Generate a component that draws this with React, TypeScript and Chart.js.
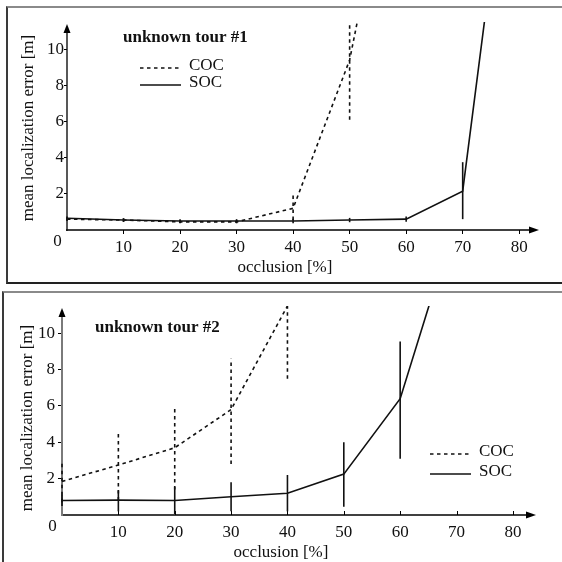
import React, { useEffect, useRef } from "react";
import { Chart, registerables } from "chart.js";

Chart.register(...registerables);

// ---------- data ----------
const occlusion = [0, 10, 20, 30, 40, 50, 60, 70, 80];
const xTickValues = [10, 20, 30, 40, 50, 60, 70, 80];
const yTickValues = [2, 4, 6, 8, 10];
const seriesNames = ["COC", "SOC"];

// unknown tour #1
const tour1COC = [0.6, 0.55, 0.45, 0.45, 1.2, 9.4, 25];
const tour1COCLow = [0.5, 0.45, 0.37, 0.37, 0.55, 6.1];
const tour1COCHigh = [0.7, 0.65, 0.55, 0.55, 2.0, 13];
const tour1SOC = [0.65, 0.55, 0.5, 0.5, 0.5, 0.55, 0.6, 2.15, 26.5];
const tour1SOCLow = [0.55, 0.45, 0.4, 0.4, 0.38, 0.43, 0.45, 0.6];
const tour1SOCHigh = [0.75, 0.65, 0.6, 0.6, 0.62, 0.67, 0.75, 3.75];

// unknown tour #2
const tour2COC = [1.85, 2.75, 3.7, 5.8, 11.5];
const tour2COCLow = [0.7, 0.8, 1.4, 2.8, 7.5];
const tour2COCHigh = [2.85, 4.6, 6.0, 8.6, 11.5];
const tour2SOC = [0.8, 0.82, 0.8, 1.0, 1.2, 2.25, 6.4, 16.4];
const tour2SOCLow = [0.5, 0.2, 0.05, 0.2, 0.2, 0.45, 3.1];
const tour2SOCHigh = [1.1, 1.35, 1.55, 1.8, 2.2, 4.0, 9.55];

const FONT = '"Liberation Serif", "Times New Roman", serif';
const INK = "#111";
const LINE_W = 1.6;

const toPoints = (vals: number[]) => vals.map((v, i) => ({ x: occlusion[i], y: v }));

// ---------- plugins ----------
const errorBars = {
  id: "errorBars",
  afterDatasetsDraw(chart: any) {
    const { ctx, chartArea: a } = chart;
    const xs = chart.scales.x;
    const ys = chart.scales.y;
    ctx.save();
    ctx.beginPath();
    ctx.rect(a.left - 2, a.top, a.right - a.left + 4, a.bottom - a.top);
    ctx.clip();
    chart.data.datasets.forEach((ds: any) => {
      const low: number[] = ds.errLow || [];
      const high: number[] = ds.errHigh || [];
      ctx.strokeStyle = INK;
      ctx.lineWidth = LINE_W;
      ctx.setLineDash(ds.borderDash || []);
      low.forEach((lo, j) => {
        const x = xs.getPixelForValue(occlusion[j]);
        ctx.beginPath();
        ctx.moveTo(x, ys.getPixelForValue(lo));
        ctx.lineTo(x, ys.getPixelForValue(high[j]));
        ctx.stroke();
      });
    });
    ctx.restore();
  },
};

const decor = {
  id: "decor",
  beforeDatasetsDraw(chart: any, _args: any, opts: any) {
    const { ctx, chartArea: a } = chart;
    const xs = chart.scales.x;
    ctx.save();
    ctx.setLineDash([]);
    ctx.fillStyle = "#000";
    // x axis with arrow
    ctx.strokeStyle = "#000";
    ctx.lineWidth = 1.3;
    ctx.beginPath();
    ctx.moveTo(a.left - 1, a.bottom);
    ctx.lineTo(a.right - 8, a.bottom);
    ctx.stroke();
    ctx.beginPath();
    ctx.moveTo(a.right, a.bottom);
    ctx.lineTo(a.right - 10, a.bottom - 3.5);
    ctx.lineTo(a.right - 10, a.bottom + 3.5);
    ctx.closePath();
    ctx.fill();
    // upward tick marks (bottom panel style)
    if (opts.ticksUp) {
      ctx.lineWidth = 1;
      xTickValues.forEach((v) => {
        const x = Math.round(xs.getPixelForValue(v)) + 0.5;
        ctx.beginPath();
        ctx.moveTo(x, a.bottom);
        ctx.lineTo(x, a.bottom - 4);
        ctx.stroke();
      });
    }
    // y axis with arrow
    ctx.strokeStyle = opts.yAxisColor;
    ctx.lineWidth = opts.yAxisWidth;
    ctx.beginPath();
    ctx.moveTo(a.left, a.bottom + 1);
    ctx.lineTo(a.left, a.top + 9);
    ctx.stroke();
    ctx.beginPath();
    ctx.moveTo(a.left, a.top + 2);
    ctx.lineTo(a.left - 3.5, a.top + 11);
    ctx.lineTo(a.left + 3.5, a.top + 11);
    ctx.closePath();
    ctx.fill();
    ctx.restore();
  },
  afterDraw(chart: any, _args: any, opts: any) {
    const { ctx, chartArea: a } = chart;
    ctx.save();
    ctx.fillStyle = INK;
    ctx.textBaseline = "middle";
    // corner zero
    ctx.font = `17px ${FONT}`;
    ctx.textAlign = "center";
    ctx.fillText("0", a.left - 9.5, a.bottom + 12);
    // x title
    ctx.fillText(opts.xTitle, opts.xTitleX, opts.xTitleY);
    // y title
    ctx.save();
    ctx.translate(opts.yTitleX, opts.yTitleY);
    ctx.rotate(-Math.PI / 2);
    ctx.fillText(opts.yTitle, 0, 0);
    ctx.restore();
    // panel title
    ctx.font = `bold 17px ${FONT}`;
    ctx.textAlign = "left";
    ctx.fillText(opts.title, opts.titleX, opts.titleY);
    // legend
    ctx.font = `17px ${FONT}`;
    chart.data.datasets.forEach((ds: any, i: number) => {
      const y = opts.legendY + i * opts.legendGap;
      ctx.strokeStyle = INK;
      ctx.lineWidth = LINE_W;
      ctx.setLineDash(ds.borderDash || []);
      ctx.beginPath();
      ctx.moveTo(opts.legendX, y + 2);
      ctx.lineTo(opts.legendX + 41, y + 2);
      ctx.stroke();
      ctx.setLineDash([]);
      ctx.fillText(ds.label, opts.legendX + 49, y);
    });
    ctx.restore();
  },
};

// ---------- chart factory ----------
function buildConfig(p: any) {
  return {
    type: "line",
    data: {
      datasets: [
        {
          label: seriesNames[0],
          data: toPoints(p.coc),
          errLow: p.cocLow,
          errHigh: p.cocHigh,
          borderColor: INK,
          borderWidth: LINE_W,
          borderDash: [3.5, 3.5],
          pointRadius: 0,
          tension: 0,
          fill: false,
        },
        {
          label: seriesNames[1],
          data: toPoints(p.soc),
          errLow: p.socLow,
          errHigh: p.socHigh,
          borderColor: INK,
          borderWidth: LINE_W,
          pointRadius: 0,
          tension: 0,
          fill: false,
        },
      ],
    },
    options: {
      responsive: false,
      animation: false,
      devicePixelRatio: 1,
      layout: { padding: { left: 0, right: p.padRight, top: p.padTop, bottom: 0 } },
      plugins: {
        legend: { display: false },
        tooltip: { enabled: false },
        decor: p.decor,
      },
      scales: {
        x: {
          type: "linear",
          min: 0,
          max: p.xMax,
          border: { display: false },
          grid: { drawOnChartArea: false, drawTicks: !p.decor.ticksUp, tickLength: 4, color: "#000", lineWidth: 1 },
          ticks: {
            color: INK,
            font: { family: FONT, size: 17 },
            padding: p.decor.ticksUp ? 7 : 3,
            maxRotation: 0,
            includeBounds: false,
          },
          afterBuildTicks: (s: any) => {
            s.ticks = xTickValues.map((v) => ({ value: v }));
          },
          afterFit: (s: any) => {
            s.height = p.xHeight;
          },
        },
        y: {
          type: "linear",
          min: 0,
          max: 11.5,
          border: { display: false },
          grid: { drawOnChartArea: false, drawTicks: true, tickLength: p.yTickLen, color: "#000", lineWidth: 1 },
          ticks: { color: INK, font: { family: FONT, size: 17 }, padding: p.yTickPad, includeBounds: false },
          afterBuildTicks: (s: any) => {
            s.ticks = yTickValues.map((v) => ({ value: v }));
          },
          afterFit: (s: any) => {
            s.width = p.yWidth;
          },
        },
      },
    },
    plugins: [errorBars, decor],
  } as any;
}

function Panel(props: { cfg: any; top: number; height: number }) {
  const ref = useRef<HTMLCanvasElement | null>(null);
  useEffect(() => {
    if (!ref.current) return;
    const chart = new Chart(ref.current, props.cfg);
    return () => chart.destroy();
  }, []);
  return (
    <canvas
      ref={ref}
      width={562}
      height={props.height}
      style={{ position: "absolute", left: 0, top: props.top, width: 562, height: props.height }}
    />
  );
}

const cfg1 = buildConfig({
  coc: tour1COC,
  cocLow: tour1COCLow,
  cocHigh: tour1COCHigh,
  soc: tour1SOC,
  socLow: tour1SOCLow,
  socHigh: tour1SOCHigh,
  xMax: 83.5,
  padRight: 23,
  padTop: 22,
  xHeight: 58,
  yWidth: 67,
  yTickLen: 3,
  yTickPad: 0,
  decor: {
    ticksUp: false,
    yAxisColor: "#111",
    yAxisWidth: 1.4,
    title: "unknown tour #1",
    titleX: 123,
    titleY: 38,
    legendX: 140,
    legendY: 66,
    legendGap: 17,
    xTitle: "occlusion [%]",
    xTitleX: 285,
    xTitleY: 268,
    yTitle: "mean localization error [m]",
    yTitleX: 29,
    yTitleY: 128,
  },
});

const cfg2 = buildConfig({
  coc: tour2COC,
  cocLow: tour2COCLow,
  cocHigh: tour2COCHigh,
  soc: tour2SOC,
  socLow: tour2SOCLow,
  socHigh: tour2SOCHigh,
  xMax: 84.1,
  padRight: 26,
  padTop: 18,
  xHeight: 47,
  yWidth: 62,
  yTickLen: 4,
  yTickPad: 3,
  decor: {
    ticksUp: true,
    yAxisColor: "#7a7a7a",
    yAxisWidth: 2,
    title: "unknown tour #2",
    titleX: 95,
    titleY: 40,
    legendX: 430,
    legendY: 164,
    legendGap: 20,
    xTitle: "occlusion [%]",
    xTitleX: 281,
    xTitleY: 265,
    yTitle: "mean localization error [m]",
    yTitleX: 27.5,
    yTitleY: 130,
  },
});

export default function App() {
  return (
    <div style={{ position: "absolute", left: 0, top: 0, width: 562, height: 562, background: "#fff", overflow: "hidden" }}>
      <div
        style={{
          position: "absolute",
          left: 6,
          top: 6,
          width: 556,
          height: 278,
          boxSizing: "border-box",
          borderTop: "2px solid #8a8a8a",
          borderLeft: "2px solid #3a3a3a",
          borderBottom: "2px solid #222",
        }}
      />
      <div
        style={{
          position: "absolute",
          left: 2,
          top: 291,
          width: 560,
          height: 280,
          boxSizing: "border-box",
          borderTop: "2px solid #8a8a8a",
          borderLeft: "2px solid #3a3a3a",
        }}
      />
      <Panel cfg={cfg1} top={0} height={288} />
      <Panel cfg={cfg2} top={288} height={274} />
    </div>
  );
}
